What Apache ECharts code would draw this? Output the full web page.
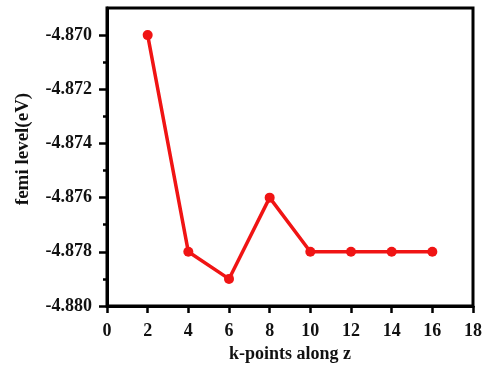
<!DOCTYPE html>
<html>
<head>
<meta charset="utf-8">
<script src="https://cdn.jsdelivr.net/npm/echarts@6/dist/echarts.min.js"></script>
<style>
  html, body { margin: 0; padding: 0; background: #fff; }
  #chart { width: 485px; height: 373px; }
</style>
</head>
<body>
<div id="chart"></div>
<script>
const kPoints = [2, 4, 6, 8, 10, 12, 14, 16]
const fermiLevel = [-4.870, -4.878, -4.879, -4.876, -4.878, -4.878, -4.878, -4.878]
const yTicks = [-4.880, -4.878, -4.876, -4.874, -4.872, -4.870]
const yMinorTicks = [-4.879, -4.877, -4.875, -4.873, -4.871]

const font = 'Liberation Serif'
const lineColor = '#f01414'

const chart = echarts.init(document.getElementById('chart'))

chart.setOption({
  backgroundColor: '#fff',
  animation: false,
  grid: {
    left: 107, right: 8, top: 8, bottom: 67,
    show: true, borderColor: '#000', borderWidth: 3, backgroundColor: 'transparent',
  },
  xAxis: {
    type: 'value',
    min: 0, max: 18, interval: 2,
    name: 'k-points along z',
    nameLocation: 'middle',
    nameGap: 35,
    nameTextStyle: { fontFamily: font, fontWeight: 'bold', fontSize: 18, color: '#111' },
    axisLine: { show: true, lineStyle: { color: '#000', width: 3 } },
    axisTick: { show: true, inside: false, length: 7, lineStyle: { color: '#000', width: 2.5 } },
    axisLabel: { fontFamily: font, fontWeight: 'bold', fontSize: 18, color: '#111', margin: 16 },
    splitLine: { show: false },
  },
  yAxis: [{
    type: 'value',
    min: -4.880, max: -4.869,
    name: 'femi level(eV)',
    nameLocation: 'middle',
    nameGap: 74,
    nameRotate: 90,
    nameTextStyle: { fontFamily: font, fontWeight: 'bold', fontSize: 19, color: '#111', padding: [0, 0, 0, 16] },
    axisLine: { show: true, lineStyle: { color: '#000', width: 3 } },
    axisTick: { show: true, inside: false, length: 8, customValues: yTicks, lineStyle: { color: '#000', width: 2.5 } },
    axisLabel: {
      fontFamily: font, fontWeight: 'bold', fontSize: 18, color: '#111', margin: 15,
      customValues: yTicks,
      formatter: v => v.toFixed(3),
    },
    splitLine: { show: false },
  }, {
    // minor ticks only
    type: 'value',
    position: 'left',
    min: -4.880, max: -4.869,
    axisLine: { show: false },
    axisTick: { show: true, inside: false, length: 4, customValues: yMinorTicks, lineStyle: { color: '#000', width: 2.5 } },
    axisLabel: { show: false },
    splitLine: { show: false },
  }],
  series: [{
    type: 'line',
    data: kPoints.map((k, i) => [k, fermiLevel[i]]),
    symbol: 'circle',
    symbolSize: 10,
    lineStyle: { color: lineColor, width: 3.5 },
    itemStyle: { color: lineColor },
  }],
})
</script>
</body>
</html>
